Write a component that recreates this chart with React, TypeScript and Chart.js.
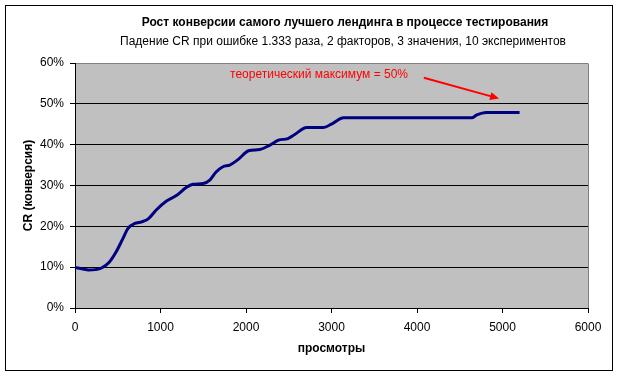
import React, { useEffect, useRef } from "react";
import { Chart, registerables } from "chart.js";

Chart.register(...registerables);

const titleText = "Рост конверсии самого лучшего лендинга в процессе тестирования";
const subtitleText = "Падение CR при ошибке 1.333 раза, 2 факторов, 3 значения, 10 экспериментов";
const xAxisTitle = "просмотры";
const yAxisTitle = "CR (конверсия)";
const noteText = "теоретический максимум = 50%";

const views = [0, 80, 160, 240, 310, 400, 480, 560, 620, 700, 780, 860, 950, 1070, 1190, 1300, 1380, 1500, 1580, 1650, 1730, 1810, 1910, 2030, 2160, 2280, 2380, 2490, 2570, 2710, 2900, 3020, 3140, 3340, 4640, 4700, 4810, 5200];
const crValues = [9.9, 9.6, 9.3, 9.4, 9.8, 11.2, 13.7, 17.0, 19.5, 20.7, 21.1, 21.9, 24.0, 26.2, 27.6, 29.5, 30.3, 30.5, 31.4, 33.3, 34.6, 35.0, 36.4, 38.5, 38.8, 39.9, 41.1, 41.5, 42.5, 44.2, 44.2, 45.3, 46.6, 46.6, 46.6, 47.3, 47.9, 47.9];

const xMin = 0;
const xMax = 6000;
const xStep = 1000;
const yMin = 0;
const yMax = 60;
const yStep = 10;

const notePos = [2854, 57.2];
const arrowStart = [4080, 56.4];
const arrowEnd = [4960, 51.3];

const FONT = "Arial, 'Liberation Sans', sans-serif";

const decorPlugin = {
  id: "decor",
  beforeDraw(chart: any) {
    const { ctx, chartArea } = chart;
    ctx.save();
    ctx.fillStyle = "#ffffff";
    ctx.fillRect(0, 0, chart.width, chart.height);
    ctx.fillStyle = "#C0C0C0";
    ctx.fillRect(chartArea.left, chartArea.top, chartArea.right - chartArea.left, chartArea.bottom - chartArea.top);
    ctx.restore();
  },
  afterDraw(chart: any) {
    const { ctx, chartArea, scales } = chart;
    const xs = scales.x;
    const ys = scales.y;
    ctx.save();
    ctx.strokeStyle = "#808080";
    ctx.lineWidth = 1;
    ctx.beginPath();
    const rx = Math.round(chartArea.right) + 0.5;
    ctx.moveTo(rx, Math.round(chartArea.top) + 0.5);
    ctx.lineTo(rx, Math.round(chartArea.bottom));
    ctx.stroke();

    ctx.fillStyle = "#000";
    ctx.textAlign = "center";
    ctx.textBaseline = "middle";
    ctx.font = "bold 12px " + FONT;
    ctx.fillText(titleText, 345, 23);
    ctx.font = "12px " + FONT;
    ctx.fillText(subtitleText, 343, 42);

    ctx.font = "bold 12px " + FONT;
    ctx.fillText(xAxisTitle, (chartArea.left + chartArea.right) / 2, 349);
    ctx.save();
    ctx.translate(29, (chartArea.top + chartArea.bottom) / 2);
    ctx.rotate(-Math.PI / 2);
    ctx.fillText(yAxisTitle, 0, 0);
    ctx.restore();

    ctx.fillStyle = "#FF0000";
    ctx.font = "12px " + FONT;
    ctx.fillText(noteText, xs.getPixelForValue(notePos[0]), ys.getPixelForValue(notePos[1]));

    const x1 = xs.getPixelForValue(arrowStart[0]);
    const y1 = ys.getPixelForValue(arrowStart[1]);
    const x2 = xs.getPixelForValue(arrowEnd[0]);
    const y2 = ys.getPixelForValue(arrowEnd[1]);
    const ang = Math.atan2(y2 - y1, x2 - x1);
    const hl = 9;
    const hw = 4;
    ctx.strokeStyle = "#FF0000";
    ctx.lineWidth = 2;
    ctx.beginPath();
    ctx.moveTo(x1, y1);
    ctx.lineTo(x2 - Math.cos(ang) * hl * 0.8, y2 - Math.sin(ang) * hl * 0.8);
    ctx.stroke();
    ctx.beginPath();
    ctx.moveTo(x2, y2);
    ctx.lineTo(x2 - Math.cos(ang) * hl + Math.sin(ang) * hw, y2 - Math.sin(ang) * hl - Math.cos(ang) * hw);
    ctx.lineTo(x2 - Math.cos(ang) * hl - Math.sin(ang) * hw, y2 - Math.sin(ang) * hl + Math.cos(ang) * hw);
    ctx.closePath();
    ctx.fillStyle = "#FF0000";
    ctx.fill();

    ctx.strokeStyle = "#000";
    ctx.lineWidth = 1;
    ctx.strokeRect(5.5, 5.5, 607, 365);
    ctx.restore();
  },
};

export default function App() {
  const ref = useRef<HTMLCanvasElement | null>(null);
  useEffect(() => {
    if (!ref.current) return;
    const chart = new Chart(ref.current, {
      type: "line",
      data: {
        datasets: [
          {
            data: views.map((v, i) => ({ x: v, y: crValues[i] })),
            borderColor: "#000080",
            borderWidth: 3,
            pointRadius: 0,
            fill: false,
            cubicInterpolationMode: "monotone",
          },
        ],
      },
      options: {
        animation: false,
        responsive: false,
        devicePixelRatio: 1,
        layout: { padding: { top: 63, right: 30, left: 0, bottom: 0 } },
        plugins: { legend: { display: false }, tooltip: { enabled: false }, title: { display: false } },
        scales: {
          x: {
            type: "linear",
            min: xMin,
            max: xMax,
            afterFit: (s: any) => {
              s.height = 68;
            },
            ticks: {
              stepSize: xStep,
              color: "#000",
              font: { family: FONT, size: 12 },
              padding: 7,
              maxRotation: 0,
              callback: (v: any) => String(v),
            },
            grid: { drawOnChartArea: false, drawTicks: true, tickLength: 5, color: "#000", tickColor: "#000" },
            border: { display: true, color: "#000", width: 1 },
          },
          y: {
            min: yMin,
            max: yMax,
            afterFit: (s: any) => {
              s.width = 75;
            },
            ticks: {
              stepSize: yStep,
              color: "#000",
              font: { family: FONT, size: 12 },
              padding: 6,
              callback: (v: any) => v + "%",
            },
            grid: {
              drawTicks: true,
              tickLength: 5,
              color: (c: any) => (c.tick && c.tick.value === yMax ? "#808080" : "#000"),
              tickColor: "#000",
            },
            border: { display: true, color: "#000", width: 1 },
          },
        },
      },
      plugins: [decorPlugin],
    } as any);
    return () => chart.destroy();
  }, []);
  return (
    <div style={{ position: "absolute", left: 0, top: 0, width: 618, height: 376 }}>
      <canvas ref={ref} width={618} height={376} style={{ display: "block", width: 618, height: 376 }} />
    </div>
  );
}
